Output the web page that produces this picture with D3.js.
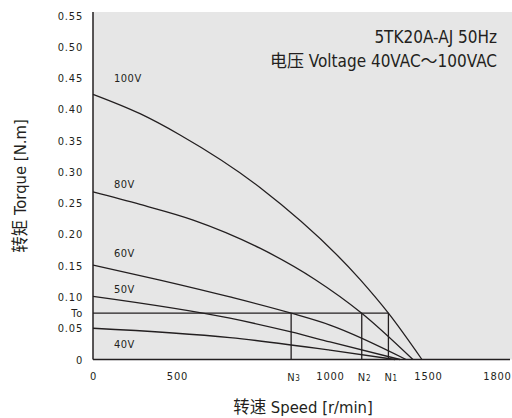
<!DOCTYPE html>
<html><head><meta charset="utf-8">
<script src="https://cdn.jsdelivr.net/npm/d3@7"></script>
<style>
html,body{margin:0;padding:0;background:#fff;}
svg{display:block;}
text{font-family:"Liberation Sans Narrow","DejaVu Sans Condensed","Noto Sans CJK SC",sans-serif;fill:#231f20;}
</style></head><body>
<svg id="c" width="512" height="418"></svg>
<script>
// ---- data ----
const speedTicks = [0, 500, 1000, 1500, 1800];
const torqueTicks = [0, 0.05, 0.10, 0.15, 0.20, 0.25, 0.30, 0.35, 0.40, 0.45, 0.50, 0.55];
const ratedTorque = 0.074;          // "To"
const ratedSpeeds = [873, 1162, 1298];   // N3, N2, N1
const ratedNames = ["3", "2", "1"];
const voltages = ["100V", "80V", "60V", "50V", "40V"];
const curve100 = [[0,0.424],[280,0.393],[510,0.359],[771,0.275],[1153,0.128],[1298,0.074],[1469,0]];
const curve80  = [[0,0.268],[280,0.248],[553,0.223],[771,0.178],[951,0.128],[1162,0.074],[1423,0]];
const curve60  = [[0,0.151],[399,0.127],[673,0.100],[873,0.074],[1000,0.055],[1388,0]];
const curve50  = [[0,0.101],[673,0.066],[873,0.044],[1000,0.028],[1357,0]];
const curve40  = [[0,0.050],[673,0.035],[1000,0.015],[1332,0]];
const labelTorque = [0.450, 0.280, 0.170, 0.112, 0.025];
const titleLines = ["5TK20A-AJ 50Hz", "电压  Voltage 40VAC～100VAC"];
const xTitle = "转速  Speed [r/min]";
const yTitle = "转矩  Torque [N.m]";

// ---- layout ----
const svg = d3.select("#c");
const ink = "#231f20";
const x = d3.scaleLinear().domain(speedTicks).range([93, 177, 330, 428, 500]);
const y = d3.scaleLinear().domain([0, 0.55]).range([359.5, 15.5]);
const pLeft = 93, pTop = 12, pBottom = y(0), pRight = 512;

svg.append("rect").attr("x", pLeft).attr("y", pTop).attr("width", pRight - pLeft).attr("height", pBottom - pTop).attr("fill", "#e6e6e6");

const line = d3.line().x(d => x(d[0])).y(d => y(d[1])).curve(d3.curveMonotoneX);
const curves = [curve100, curve80, curve60, curve50, curve40];
svg.append("g").selectAll("path").data(curves).join("path")
  .attr("d", line).attr("fill", "none").attr("stroke", ink).attr("stroke-width", 1.3);

// rated torque line and rated speed verticals
svg.append("line").attr("x1", pLeft).attr("x2", x(d3.max(ratedSpeeds)))
  .attr("y1", y(ratedTorque)).attr("y2", y(ratedTorque)).attr("stroke", ink).attr("stroke-width", 1.3);
svg.append("g").selectAll("line").data(ratedSpeeds).join("line")
  .attr("x1", d => x(d)).attr("x2", d => x(d)).attr("y1", y(ratedTorque)).attr("y2", pBottom)
  .attr("stroke", ink).attr("stroke-width", 1.3);

// axes
const yAxis = d3.axisLeft(y).tickValues(torqueTicks.concat([ratedTorque])).tickSize(0).tickPadding(10)
  .tickFormat(d => d === ratedTorque ? "To" : (d === 0 ? "0" : d.toFixed(2)));
const gy = svg.append("g").attr("transform", `translate(${pLeft},0)`).call(yAxis);
gy.select(".domain").remove();
gy.selectAll("text").attr("font-size", 11).style("letter-spacing", "0.8px").attr("fill", ink);
gy.attr("font-family", null);

const xAxis = d3.axisBottom(x).tickValues(speedTicks).tickSize(0).tickPadding(13).tickFormat(d3.format("d"));
const gx = svg.append("g").attr("transform", `translate(0,${pBottom})`).call(xAxis);
gx.select(".domain").remove();
gx.selectAll("text").attr("font-size", 11).style("letter-spacing", "0.8px").attr("fill", ink);
gx.selectAll("text").filter(d => d === speedTicks[speedTicks.length - 1]).attr("dx", -3);
gx.attr("font-family", null);

svg.append("line").attr("x1", pLeft).attr("x2", pLeft).attr("y1", pTop).attr("y2", pBottom).attr("stroke", ink).attr("stroke-width", 1.5);
svg.append("line").attr("x1", pLeft).attr("x2", 510).attr("y1", pBottom).attr("y2", pBottom).attr("stroke", ink).attr("stroke-width", 1.5);

// N labels
const nl = svg.append("g").selectAll("text").data(ratedSpeeds).join("text")
  .attr("x", d => x(d) - 4).attr("y", 380.5).attr("font-size", 11).style("letter-spacing", "0.8px");
nl.append("tspan").text("N");
nl.append("tspan").attr("font-size", 8).text((d, i) => ratedNames[i]);

// curve labels
svg.append("g").selectAll("text").data(voltages).join("text")
  .attr("x", 114).attr("y", (d, i) => y(labelTorque[i]) + 4)
  .attr("font-size", 11).style("letter-spacing", "0.5px").text(d => d);

// title
svg.append("g").selectAll("text").data(titleLines).join("text")
  .attr("x", 497).attr("y", (d, i) => 42.5 + i * 24).attr("text-anchor", "end")
  .attr("font-size", 17).text(d => d);

// axis titles
svg.append("text").attr("x", 303).attr("y", 413).attr("text-anchor", "middle").attr("font-size", 16.5).text(xTitle);
svg.append("text").attr("transform", "translate(26,186) rotate(-90)").attr("text-anchor", "middle").attr("font-size", 16.5).text(yTitle);
</script>
</body></html>
